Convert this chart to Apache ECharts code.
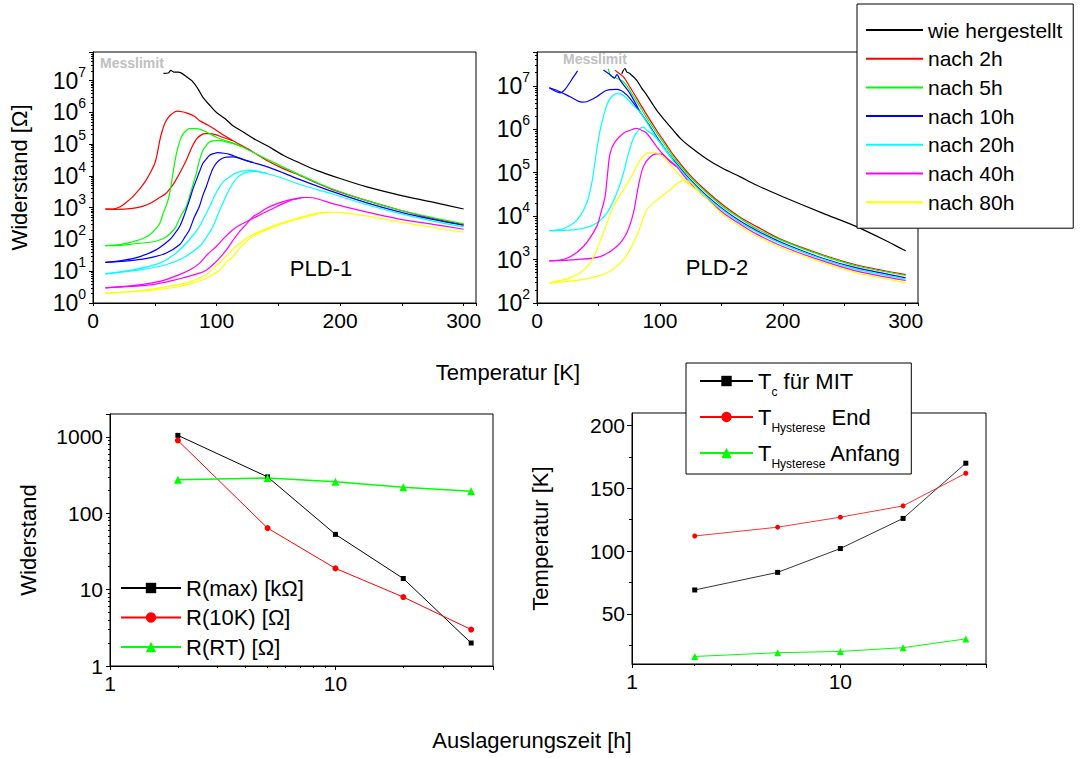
<!DOCTYPE html>
<html><head><meta charset="utf-8">
<script src="https://cdn.jsdelivr.net/npm/echarts@6/dist/echarts.min.js"></script>
<style>html,body{margin:0;padding:0;background:#fff}#c{width:1084px;height:758px}</style>
</head><body><div id="c"></div>
<script>
// ---------------- DATA ----------------
const curveNames = ['wie hergestellt','nach 2h','nach 5h','nach 10h','nach 20h','nach 40h','nach 80h'];
const curveColors = ['#000000','#ff0000','#00ff00','#0000ff','#00ffff','#ff00ff','#ffff00'];

// PLD-1 : [T (K), R (Ohm)]
const pld1_asMade = [[57,1.7e7],[61,1.75e7],[63,2.1e7],[65,1.9e7],[69,1.85e7],[72,1.7e7],[76,1.3e7],[80,1.0e7],[85,5.5e6],[89,3.0e6],[95,1.6e6],[100,1.0e6],[107,6.3e5],[113,3.9e5],[121,2.5e5],[130,1.5e5],[141,8.9e4],[154,4.5e4],[167,2.6e4],[181,1.5e4],[200,8.3e3],[221,4.6e3],[248,2.5e3],[275,1.5e3],[300,9.1e2]];
const pld1_2h_a = [[10,900],[16,910],[22,1070],[28,1600],[32,2200],[38,4000],[43,7400],[47,1.4e4],[50,2.5e4],[52,5.0e4],[54,1.3e5],[56,2.6e5],[58,4.4e5],[61,7.0e5],[64,9.1e5],[68,1.1e6],[72,1.05e6],[76,9.5e5],[82,7.6e5],[86,5.6e5],[93,4.0e5],[100,2.7e5],[107,1.8e5],[113,1.3e5],[127,6.5e4],[140,3.2e4],[154,1.7e4],[167,1.05e4],[181,6.0e3],[194,3.7e3],[221,1.7e3],[248,850],[275,460],[300,290]];
const pld1_2h_b = [[10,900],[19,890],[32,950],[40,1100],[46,1350],[53,2000],[59,2800],[64,4800],[67,7400],[71,1.4e4],[75.5,3.1e4],[80,8e4],[84,1.5e5],[88,2.0e5],[91,2.15e5],[95,2.15e5],[99,2.0e5],[105,1.65e5],[113,1.3e5]];
const pld1_5h_a = [[10,64],[22,69],[32,85],[40,105],[46,140],[50,200],[54,320],[57,700],[60.7,1700],[63,4500],[64.7,1.2e4],[67,4.0e4],[68.8,8.1e4],[71,1.5e5],[73,2.1e5],[76,2.8e5],[78,3.1e5],[84,3.1e5],[88,2.8e5],[92,2.4e5],[100,1.65e5],[107,1.3e5],[113,1.1e5],[120,8.5e4],[127,6.2e4],[140,3.5e4],[154,1.9e4],[167,1.1e4],[181,6.3e3],[194,3.9e3],[221,1.7e3],[248,850],[275,490],[300,310]];
const pld1_5h_b = [[10,64],[20,65],[32,72],[48.6,85],[55,100],[59,120],[63,160],[67,250],[71,550],[75.5,1100],[79,3000],[83.6,1.2e4],[86,3.0e4],[89,6.5e4],[92,9.5e4],[94.4,1.18e5],[99.8,1.3e5],[104,1.3e5],[108,1.17e5],[113,1.05e5],[120,8.5e4]];
const pld1_10h_a = [[10,19],[24,22],[38,29],[51,47],[62,98],[66,150],[70,250],[74,600],[78,1700],[81,4000],[83.6,7400],[86,1.3e4],[89,2.5e4],[92,3.5e4],[94.4,4.5e4],[98,5.1e4],[101,5.4e4],[106,5.2e4],[110.6,4.8e4],[116,4.0e4],[121,3.3e4],[130,2.6e4],[140,2.0e4],[154,1.25e4],[167,7.8e3],[194,3.2e3],[221,1.45e3],[248,740],[275,430],[300,280]];
const pld1_10h_b = [[10,19],[32,22],[48.6,28],[59,37],[70,68],[75,130],[78,200],[82,500],[86,1070],[89,2500],[91.7,4600],[94,8500],[97,1.7e4],[100,2.6e4],[104,3.5e4],[108,3.9e4],[113,4.0e4],[118,3.7e4],[124,3.1e4],[130,2.6e4]];
const pld1_20h_a = [[10,8.3],[32,11],[54,18],[67,37],[78,98],[86,250],[90,500],[94.4,1070],[98,2200],[102.5,4600],[106,7000],[110.6,9300],[114,1.15e4],[118.7,1.35e4],[125,1.5e4],[130,1.5e4],[135,1.35e4],[140,1.2e4],[145.7,1.05e4],[154,8300],[167,5500],[181,3800],[194,2700],[221,1260],[248,660],[275,380],[300,250]];
const pld1_20h_b = [[10,8.3],[40.5,11.5],[59,16],[72.8,26],[86,60],[92,120],[97,250],[101,600],[105,1350],[109,3000],[113,5700],[117,9000],[121.4,1.2e4],[126,1.35e4],[130.8,1.4e4],[135,1.35e4],[140,1.2e4]];
const pld1_40h_a = [[10,3.0],[32,3.5],[54,4.8],[70,7.8],[80,12],[86.3,18],[93,35],[99.8,60],[106,110],[113,200],[120,300],[129.5,460],[137,650],[145.7,950],[152,1250],[159,1650],[165,1900],[170,2100],[175,2100],[180.7,1950],[194,1350],[221,740],[248,440],[275,300],[300,210]];
const pld1_40h_b = [[10,3.0],[46,3.7],[67,5.4],[86.3,8.7],[92,11],[97,16],[102,25],[108,47],[113,90],[118.7,180],[124,300],[129.5,520],[135,700],[140,950],[147,1250],[154,1550],[160,1800],[167,2000],[172,2100]];
const pld1_80h_a = [[10,2.05],[32,2.3],[54,3.0],[75.5,4.3],[91.7,7.8],[98,13],[105,23],[112,45],[118.7,76],[126,120],[135,180],[145,260],[153.8,340],[163,440],[172.6,560],[180,650],[186,710],[194,720],[200,710],[221,550],[248,360],[275,240],[300,170]];
const pld1_80h_b = [[10,2.05],[46,2.5],[70,3.3],[89,5.4],[96,7.5],[102.5,11],[108,19],[113.3,29],[118,50],[124,85],[130,130],[137.6,180],[145,240],[153.8,320],[163,410],[172.6,520],[180,620],[188.8,710],[194,720]];

// PLD-2 : [T (K), R (Ohm)]
const pld2_asMade = [[69,1.9e7],[71.6,2.5e7],[73,2.1e7],[75.7,1.9e7],[81,1.35e7],[85,9.0e6],[89.2,6.2e6],[97.3,2.75e6],[104,1.6e6],[110.8,9.5e5],[117,6.0e5],[124.3,4.0e5],[137.8,2.1e5],[151,1.26e5],[165,8.1e4],[178.4,5.2e4],[200,2.8e4],[232.4,1.17e4],[259.5,5.8e3],[286.5,2.5e3],[297,1.75e3],[300,1.6e3]];
const pld2_2h = [[63.5,2.3e7],[66,2.0e7],[70.3,1.6e7],[76,9.0e6],[83.8,3.9e6],[90,2.0e6],[97.3,9.5e5],[104,5.0e5],[110.8,2.6e5],[124.3,8.9e4],[137.8,3.8e4],[151.4,1.8e4],[165,9.5e3],[178.4,5.8e3],[200,2.8e3],[232.4,1.29e3],[259.5,760],[300,450]];
const pld2_5h = [[58,2.5e7],[60,1.7e7],[63.5,1.55e7],[70.3,1.25e7],[76,7.5e6],[83.8,3.3e6],[90,1.7e6],[97.3,8.3e5],[104,4.4e5],[110.8,2.3e5],[124.3,8.1e4],[137.8,3.5e4],[151.4,1.65e4],[165,9.0e3],[178.4,5.2e3],[200,2.7e3],[232.4,1.23e3],[259.5,720],[300,430]];
const pld2_10h_a = [[10,9.0e6],[16,7.9e6],[27,5.6e6],[36.5,4.2e6],[40.5,4.3e6],[48.6,5.6e6],[56.8,7.9e6],[64.9,8.3e6],[73,6.2e6],[83.8,2.5e6],[90,1.4e6],[97.3,6.8e5],[104,3.6e5],[110.8,2.0e5],[124.3,7.1e4],[137.8,3.0e4],[151.4,1.45e4],[165,7.8e3],[178.4,4.7e3],[200,2.4e3],[232.4,1.07e3],[259.5,650],[300,380]];
const pld2_10h_b = [[10,9.0e6],[18.9,6.9e6],[23,8.4e6],[29.7,1.6e7],[33,2.2e7]];
const pld2_10h_c = [[54,2.3e7],[59.5,1.8e7],[63,1.5e7],[65,1.8e7],[68,1.3e7],[75.7,6.6e6],[83.8,2.5e6]];
const pld2_20h_a = [[10,4600],[21.6,5200],[32.4,8100],[40.5,2.0e4],[44.6,5.8e4],[48.6,3.3e5],[51,8.5e5],[54,1.95e6],[57,3.7e6],[59.5,5.1e6],[64.9,6.6e6],[68,6.5e6],[73,5.1e6],[78,3.6e6],[83.8,2.5e6],[90,1.35e6],[97.3,6.3e5],[104,3.4e5],[110.8,1.9e5],[124.3,6.6e4],[137.8,2.8e4],[151.4,1.35e4],[165,7.2e3],[178.4,4.4e3],[200,2.24e3],[232.4,1.02e3],[259.5,600],[300,355]];
const pld2_20h_b = [[10,4600],[29.7,4800],[46,6300],[56.8,1.17e4],[64.9,3.4e4],[70,9.0e4],[73,1.95e5],[78.4,6.2e5],[83.8,1.05e6],[87,1.1e6],[89.2,9.5e5],[94.6,7.4e5],[102.7,4.0e5],[110.8,1.9e5]];
const pld2_40h_a = [[10,930],[24.3,1070],[37.8,2000],[48.6,5800],[52,1.2e4],[55.4,2.8e4],[57.5,1.0e5],[59.5,2.8e5],[63.5,5.1e5],[70.3,8.1e5],[76,9.5e5],[81,1.05e6],[85,9.5e5],[89.2,8.1e5],[97.3,4.0e5],[104,2.4e5],[113.5,1.38e5],[124.3,5.9e4],[137.8,2.6e4],[151.4,1.2e4],[165,6.6e3],[178.4,3.9e3],[200,2.0e3],[232.4,930],[259.5,550],[300,330]];
const pld2_40h_b = [[10,930],[32.4,1000],[51.4,1170],[64.9,2000],[73,4100],[78.4,1.17e4],[82.4,4.8e4],[86.5,1.38e5],[92,2.3e5],[97.3,2.7e5],[102.7,2.6e5],[108,1.8e5],[113.5,1.38e5]];
const pld2_80h_a = [[10,290],[29.7,410],[43.2,830],[54,4100],[62.2,1.66e4],[70.3,4.0e4],[78.4,9.8e4],[83.8,1.95e5],[89.2,2.8e5],[94.6,2.95e5],[102.7,2.3e5],[113.5,1.05e5],[124.3,5.2e4],[132,3.6e4],[137.8,2.6e4],[151.4,1.07e4],[165,5.8e3],[178.4,3.5e3],[200,1.8e3],[232.4,850],[259.5,500],[300,295]];
const pld2_80h_b = [[10,290],[37.8,350],[56.8,490],[70.3,1000],[81,3400],[89.2,1.38e4],[97.3,2.3e4],[108,4.0e4],[116.2,6.2e4],[121.6,6.6e4],[126,5.6e4],[132,3.6e4]];

// Bottom panels
const agingTimes = [2, 5, 10, 20, 40];
const rMaxK = [1050, 300, 53, 14, 2];
const r10K = [900, 64, 19, 8, 3];
const rRT = [275, 290, 260, 220, 195];
const tcMIT = [69, 83, 102, 126, 170];
const tHystEnd = [112, 119, 127, 136, 162];
const tHystStart = [16, 19, 20, 23, 30];
const bottomLeftNames = ['R(max) [kΩ]', 'R(10K) [Ω]', 'R(RT) [Ω]'];
const bottomRightNames = ['Tc für MIT', 'THysterese End', 'THysterese Anfang'];
const bottomRightLabels = ['T{sub|c} für MIT', 'T{sub|Hysterese} End', 'T{sub|Hysterese} Anfang'];
const tempTicks = [50, 100, 150, 200];
const tempMinorTicks = [25, 75, 125, 175];

// ---------------- CHART ----------------
const FONT = '"Liberation Sans", Arial, Helvetica, sans-serif';
const chart = echarts.init(document.getElementById('c'), null, {renderer: 'svg', width: 1084, height: 758});

function minorLogPositions(lo, hi) {
  const out = [];
  for (let e = Math.floor(Math.log10(lo)); e <= Math.ceil(Math.log10(hi)); e++) {
    for (let m = 2; m <= 9; m++) {
      const v = m * Math.pow(10, e);
      if (v > lo && v < hi) out.push(Math.log10(v));
    }
  }
  return out;
}
function isDecade(v) { const e = Math.log10(v); return Math.abs(e - Math.round(e)) < 1e-6; }
const supFormatter = v => isDecade(v) ? '{b|10}{sup|' + Math.round(Math.log10(v)) + '}' : '';
const plainDecade = v => isDecade(v) ? String(Math.round(v)) : '';

const lbl = {color: '#000', fontSize: 21, fontFamily: FONT};
const axLine = {show: true, onZero: false, lineStyle: {color: '#000', width: 1}};
const tickStyle = {color: '#000', width: 1};

function tempAxis(grid) {
  return {type: 'value', gridIndex: grid, min: 0, max: 310, interval: 50,
    axisLine: axLine, axisTick: {show: true, length: 3, lineStyle: tickStyle},
    axisLabel: Object.assign({margin: 7, formatter: v => (v % 100 === 0 ? String(v) : '')}, lbl),
    splitLine: {show: false}};
}
function logAxisMain(grid, min, max, fmt, rich, extra) {
  return Object.assign({type: 'log', logBase: 10, gridIndex: grid, min: min, max: max, interval: 1,
    axisLine: axLine, axisTick: {show: true, length: 4, lineStyle: tickStyle},
    axisLabel: Object.assign({margin: 7, formatter: fmt, rich: rich}, lbl),
    splitLine: {show: false}, splitArea: {show: false}}, extra || {});
}
function minorOverlay(grid, min, max, pos) {
  return {type: 'value', gridIndex: grid, min: Math.log10(min), max: Math.log10(max), position: pos,
    axisLine: {show: false}, axisLabel: {show: false}, splitLine: {show: false},
    axisTick: {show: true, length: 2, lineStyle: tickStyle, customValues: minorLogPositions(min, max)}};
}
const supRich = {
  b: {fontSize: 23, fontFamily: FONT, color: '#000'},
  sup: {fontSize: 14, fontFamily: FONT, color: '#000', padding: [0, 0, 18, 0]}
};
const nameStyle = {color: '#000', fontSize: 22, fontFamily: FONT};

const xAxis = [
  tempAxis(0),
  tempAxis(1),
  logAxisMain(2, 1, 50, plainDecade, null),
  logAxisMain(3, 1, 50, plainDecade, null),
  minorOverlay(2, 1, 50, 'bottom'),
  minorOverlay(3, 1, 50, 'bottom')
];
const yAxis = [
  logAxisMain(0, 1, 8e7, supFormatter, supRich, {name: 'Widerstand [Ω]', nameLocation: 'middle', nameGap: 63, nameTextStyle: nameStyle, nameMoveOverlap: false}),
  logAxisMain(1, 100, 6e7, supFormatter, supRich),
  logAxisMain(2, 1, 2000, plainDecade, null, {name: 'Widerstand', nameLocation: 'middle', nameGap: 71, nameTextStyle: nameStyle, nameMoveOverlap: false}),
  {type: 'value', gridIndex: 3, min: 10, max: 210,
    axisLine: axLine, axisTick: {show: true, length: 5, lineStyle: tickStyle, customValues: tempTicks},
    axisLabel: Object.assign({margin: 7, customValues: tempTicks}, lbl),
    splitLine: {show: false},
    name: 'Temperatur [K]', nameLocation: 'middle', nameGap: 81, nameTextStyle: nameStyle, nameMoveOverlap: false},
  minorOverlay(0, 1, 8e7, 'left'),
  minorOverlay(1, 100, 6e7, 'left'),
  minorOverlay(2, 1, 2000, 'left'),
  {type: 'value', gridIndex: 3, min: 10, max: 210, position: 'left',
    axisLine: {show: false}, axisLabel: {show: false}, splitLine: {show: false},
    axisTick: {show: true, length: 3, lineStyle: tickStyle, customValues: tempMinorTicks}}
];

function curve(idx, data, grid) {
  return {type: 'line', name: curveNames[idx], data: data, xAxisIndex: grid, yAxisIndex: grid,
    symbol: 'none', showSymbol: false, smooth: 0.3, clip: true, silent: true,
    lineStyle: {color: curveColors[idx], width: 1.2}, itemStyle: {color: curveColors[idx]}};
}
const series = [
  curve(0, pld1_asMade, 0),
  curve(1, pld1_2h_a, 0), curve(1, pld1_2h_b, 0),
  curve(2, pld1_5h_a, 0), curve(2, pld1_5h_b, 0),
  curve(3, pld1_10h_a, 0), curve(3, pld1_10h_b, 0),
  curve(4, pld1_20h_a, 0), curve(4, pld1_20h_b, 0),
  curve(5, pld1_40h_a, 0), curve(5, pld1_40h_b, 0),
  curve(6, pld1_80h_a, 0), curve(6, pld1_80h_b, 0),
  curve(0, pld2_asMade, 1),
  curve(1, pld2_2h, 1),
  curve(2, pld2_5h, 1),
  curve(3, pld2_10h_a, 1), curve(3, pld2_10h_b, 1), curve(3, pld2_10h_c, 1),
  curve(4, pld2_20h_a, 1), curve(4, pld2_20h_b, 1),
  curve(5, pld2_40h_a, 1), curve(5, pld2_40h_b, 1),
  curve(6, pld2_80h_a, 1), curve(6, pld2_80h_b, 1)
];
function pts(ys) { return agingTimes.map((t, i) => [t, ys[i]]); }
function marker(name, ys, grid, color, sym, size, lw) {
  return {type: 'line', name: name, data: pts(ys), xAxisIndex: grid, yAxisIndex: grid,
    symbol: sym, symbolSize: size, showSymbol: true, silent: true, clip: false,
    lineStyle: {color: color, width: lw}, itemStyle: {color: color}};
}
series.push(
  marker(bottomLeftNames[0], rMaxK, 2, '#000000', 'rect', 5, 1),
  marker(bottomLeftNames[1], r10K, 2, '#ff0000', 'circle', 6, 1),
  marker(bottomLeftNames[2], rRT, 2, '#00ff00', 'triangle', 8, 1.5),
  marker(bottomRightNames[0], tcMIT, 3, '#000000', 'rect', 5, 0.8),
  marker(bottomRightNames[1], tHystEnd, 3, '#ff0000', 'circle', 5, 0.8),
  marker(bottomRightNames[2], tHystStart, 3, '#00ff00', 'triangle', 7, 1)
);

const gridBase = {show: true, borderColor: '#000', borderWidth: 1, backgroundColor: 'transparent', containLabel: false, outerBoundsMode: 'none'};
const option = {
  animation: false,
  backgroundColor: '#ffffff',
  textStyle: {fontFamily: FONT},
  grid: [
    Object.assign({left: 93, top: 52, width: 383, height: 251}, gridBase),
    Object.assign({left: 537, top: 52, width: 381, height: 251}, gridBase),
    Object.assign({left: 110, top: 414, width: 383, height: 252}, gridBase),
    Object.assign({left: 632, top: 413, width: 354, height: 251}, gridBase)
  ],
  xAxis: xAxis,
  yAxis: yAxis,
  legend: [
    {data: curveNames, orient: 'vertical', left: 857, top: 4, icon: 'rect', itemWidth: 57, itemHeight: 2,
      itemGap: 4.7, padding: [14, 11, 14, 9], backgroundColor: '#fff', borderColor: '#000', borderWidth: 1,
      selectedMode: false, textStyle: {color: '#000', fontSize: 21, lineHeight: 24, fontFamily: FONT}},
    {data: bottomLeftNames, orient: 'vertical', left: 120, top: 575, itemWidth: 60, itemHeight: 13,
      itemGap: 3.5, padding: 0, selectedMode: false,
      textStyle: {color: '#000', fontSize: 22, lineHeight: 26, fontFamily: FONT}},
    {data: bottomRightNames, orient: 'vertical', left: 686, top: 363, itemWidth: 53, itemHeight: 13,
      itemGap: 2, padding: [1, 10, 4, 13], backgroundColor: '#fff', borderColor: '#000', borderWidth: 1,
      selectedMode: false,
      formatter: name => bottomRightLabels[bottomRightNames.indexOf(name)],
      textStyle: {color: '#000', fontSize: 22, lineHeight: 26, fontFamily: FONT,
        rich: {sub: {fontSize: 12, lineHeight: 12, padding: [22, 0, 0, 0], color: '#000', fontFamily: FONT}}}}
  ],
  graphic: [
    {type: 'text', x: 100, y: 63, silent: true, z: 10, style: {text: 'Messlimit', fill: '#c0c0c0', font: 'bold 14px ' + FONT, align: 'left', verticalAlign: 'middle'}},
    {type: 'text', x: 563, y: 59, silent: true, z: 10, style: {text: 'Messlimit', fill: '#c0c0c0', font: 'bold 14px ' + FONT, align: 'left', verticalAlign: 'middle'}},
    {type: 'text', x: 321, y: 268, silent: true, style: {text: 'PLD-1', fill: '#000', font: '22px ' + FONT, align: 'center', verticalAlign: 'middle'}},
    {type: 'text', x: 717, y: 267, silent: true, style: {text: 'PLD-2', fill: '#000', font: '22px ' + FONT, align: 'center', verticalAlign: 'middle'}},
    {type: 'text', x: 508, y: 372, silent: true, style: {text: 'Temperatur [K]', fill: '#000', font: '22px ' + FONT, align: 'center', verticalAlign: 'middle'}},
    {type: 'text', x: 532, y: 740, silent: true, style: {text: 'Auslagerungszeit [h]', fill: '#000', font: '22px ' + FONT, align: 'center', verticalAlign: 'middle'}}
  ],
  series: series
};
chart.setOption(option);
</script>
</body></html>
